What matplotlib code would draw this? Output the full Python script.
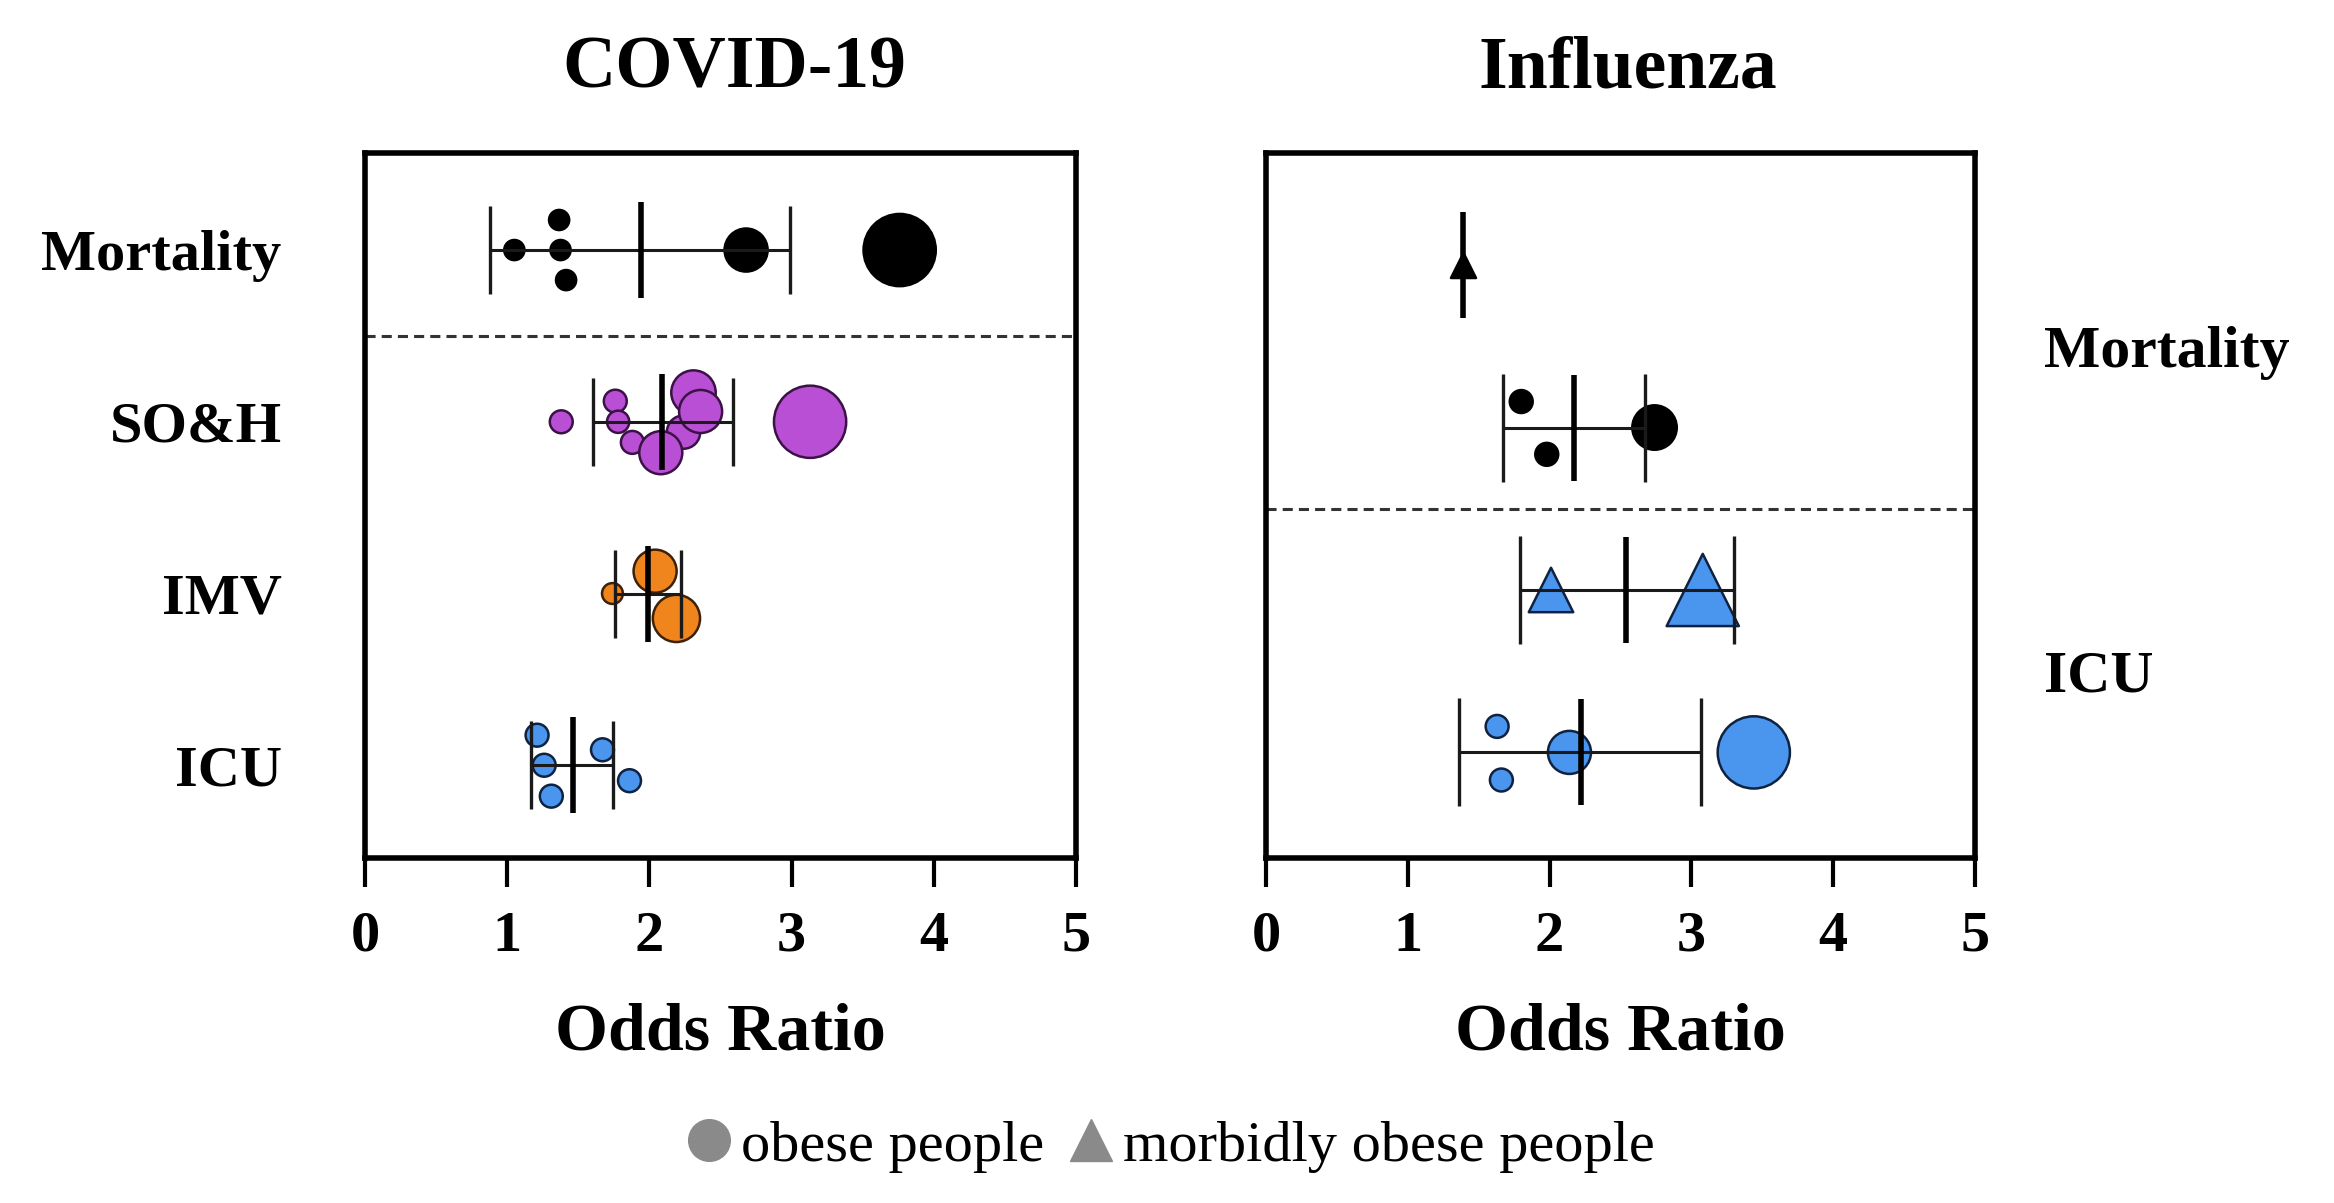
import matplotlib.pyplot as plt
from matplotlib.lines import Line2D

plt.rcParams['font.family'] = ['Liberation Serif', 'DejaVu Serif']

# COVID-19 (left panel), rows from top to bottom
covid_rows = ['Mortality', 'SO&H', 'IMV', 'ICU']
covid_mort_or = [1.05, 1.365, 1.375, 1.414, 2.68, 3.76]
covid_mort_w = [14.5, 14.5, 14.5, 14.5, 31, 52]
covid_mort_off = [0, 0.175, 0, -0.175, 0, 0]
covid_soh_or = [1.38, 1.76, 1.78, 1.88, 2.24, 2.08, 2.31, 2.36, 3.13]
covid_soh_w = [16.5, 16.5, 16, 16.5, 24, 31, 32, 31, 52]
covid_soh_off = [0, 0.12, 0, -0.12, -0.06, -0.18, 0.17, 0.06, 0]
covid_imv_or = [1.74, 2.04, 2.19]
covid_imv_w = [15, 31, 34]
covid_imv_off = [0, 0.13, -0.145]
covid_icu_or = [1.21, 1.26, 1.31, 1.67, 1.86]
covid_icu_w = [16.5, 16.5, 16.5, 16.5, 16.5]
covid_icu_off = [0.175, 0, -0.18, 0.09, -0.09]
covid_mean = [1.94, 2.09, 1.99, 1.46]
covid_lo = [0.876, 1.60, 1.76, 1.17]
covid_hi = [2.99, 2.59, 2.22, 1.745]
covid_colors = ['black', '#b94fd4', '#f0851e', '#4a95ee']

# Influenza (right panel), rows from top to bottom
flu_groups = ['Mortality', 'ICU']
flu_mort_morb_or = [1.39]
flu_mort_morb_w = [18]
flu_mort_or = [1.80, 1.98, 2.74]
flu_mort_w = [16.5, 16.5, 32]
flu_mort_off = [0.16, -0.165, 0]
flu_icu_morb_or = [2.01, 3.08]
flu_icu_morb_w = [32, 52]
flu_icu_or = [1.63, 1.66, 2.14, 3.44]
flu_icu_w = [16.5, 16.5, 31, 52]
flu_icu_off = [0.16, -0.17, 0, 0]
flu_mean = [1.39, 2.17, 2.54, 2.22]
flu_lo = [None, 1.67, 1.79, 1.36]
flu_hi = [None, 2.67, 3.30, 3.07]

edge = {'black': 'black', '#b94fd4': '#3a1245', '#f0851e': '#3d2208', '#4a95ee': '#0f2240'}


def draw_row(ax, y, ors, w, off, color, marker, mean, lo, hi, meanlen, cap):
    ys = [y + o for o in off]
    ax.scatter(ors, ys, s=[v ** 2 for v in w], c=color, marker=marker,
               edgecolors=edge[color], linewidths=1.8, zorder=2)
    if lo is not None:
        ax.errorbar(mean, y, xerr=[[mean - lo], [hi - mean]], fmt='none',
                    ecolor='#1a1a1a', elinewidth=2.2, capsize=cap, capthick=2.4, zorder=3)
    ax.plot(mean, y, marker='|', ms=meanlen, mew=4, color='black', ls='none', zorder=4)


def style_axis(ax):
    ax.set_xlim(0, 5)
    ax.set_xticks([0, 1, 2, 3, 4, 5])
    for s in ax.spines.values():
        s.set_linewidth(4)
    ax.tick_params(axis='x', direction='out', length=21, width=3, pad=17, labelsize=42)
    for t in ax.get_xticklabels():
        t.set_fontweight('bold')
    ax.set_xlabel('Odds Ratio', fontsize=49, fontweight='bold')
    ax.xaxis.set_label_coords(0.5, -0.205)


fig = plt.figure(figsize=(23.34, 12.03), dpi=100)
ax1 = fig.add_axes([0.1564, 0.2868, 0.3046, 0.586])
ax2 = fig.add_axes([0.5424, 0.2868, 0.3038, 0.586])

# left panel
covid_data = [(covid_mort_or, covid_mort_w, covid_mort_off),
              (covid_soh_or, covid_soh_w, covid_soh_off),
              (covid_imv_or, covid_imv_w, covid_imv_off),
              (covid_icu_or, covid_icu_w, covid_icu_off)]
for i, (ors, w, off) in enumerate(covid_data):
    y = 4 - i
    draw_row(ax1, y, ors, w, off, covid_colors[i], 'o',
             covid_mean[i], covid_lo[i], covid_hi[i], 69, 32)
ax1.axhline(3.5, color='#333333', lw=2.2, ls=(0, (3.3, 2)), zorder=1)
ax1.set_ylim(0.46, 4.565)
ax1.set_yticks([4, 3, 2, 1])
ax1.set_yticklabels(covid_rows, fontsize=42, fontweight='bold')
ax1.tick_params(axis='y', length=0, pad=60)
style_axis(ax1)
ax1.set_title('COVID-19', fontsize=53, fontweight='bold', pad=47, x=0.52)

# right panel
draw_row(ax2, 4, flu_mort_morb_or, flu_mort_morb_w, [0], 'black', '^',
         flu_mean[0], flu_lo[0], flu_hi[0], 76, 39)
draw_row(ax2, 3, flu_mort_or, flu_mort_w, flu_mort_off, 'black', 'o',
         flu_mean[1], flu_lo[1], flu_hi[1], 76, 39)
draw_row(ax2, 2, flu_icu_morb_or, flu_icu_morb_w, [0, 0], '#4a95ee', '^',
         flu_mean[2], flu_lo[2], flu_hi[2], 76, 39)
draw_row(ax2, 1, flu_icu_or, flu_icu_w, flu_icu_off, '#4a95ee', 'o',
         flu_mean[3], flu_lo[3], flu_hi[3], 76, 39)
ax2.axhline(2.5, color='#333333', lw=2.2, ls=(0, (3.3, 2)), zorder=1)
ax2.set_ylim(0.35, 4.69)
ax2.yaxis.tick_right()
ax2.set_yticks([3.5, 1.5])
ax2.set_yticklabels(flu_groups, fontsize=43, fontweight='bold')
ax2.tick_params(axis='y', length=0, pad=50)
style_axis(ax2)
ax2.set_title('Influenza', fontsize=53, fontweight='bold', pad=47, x=0.51)

# legend at the bottom
handles = [Line2D([], [], marker='o', ls='none', color='#8a8a8a', ms=30),
           Line2D([], [], marker='^', ls='none', color='#8a8a8a', ms=30)]
fig.legend(handles, ['obese people', 'morbidly obese people'], loc='center',
           bbox_to_anchor=(0.5, 0.047), ncol=2, frameon=False, fontsize=42,
           handletextpad=0.05, columnspacing=0.3, handlelength=1.0)

fig.savefig('out.png', dpi=100)
